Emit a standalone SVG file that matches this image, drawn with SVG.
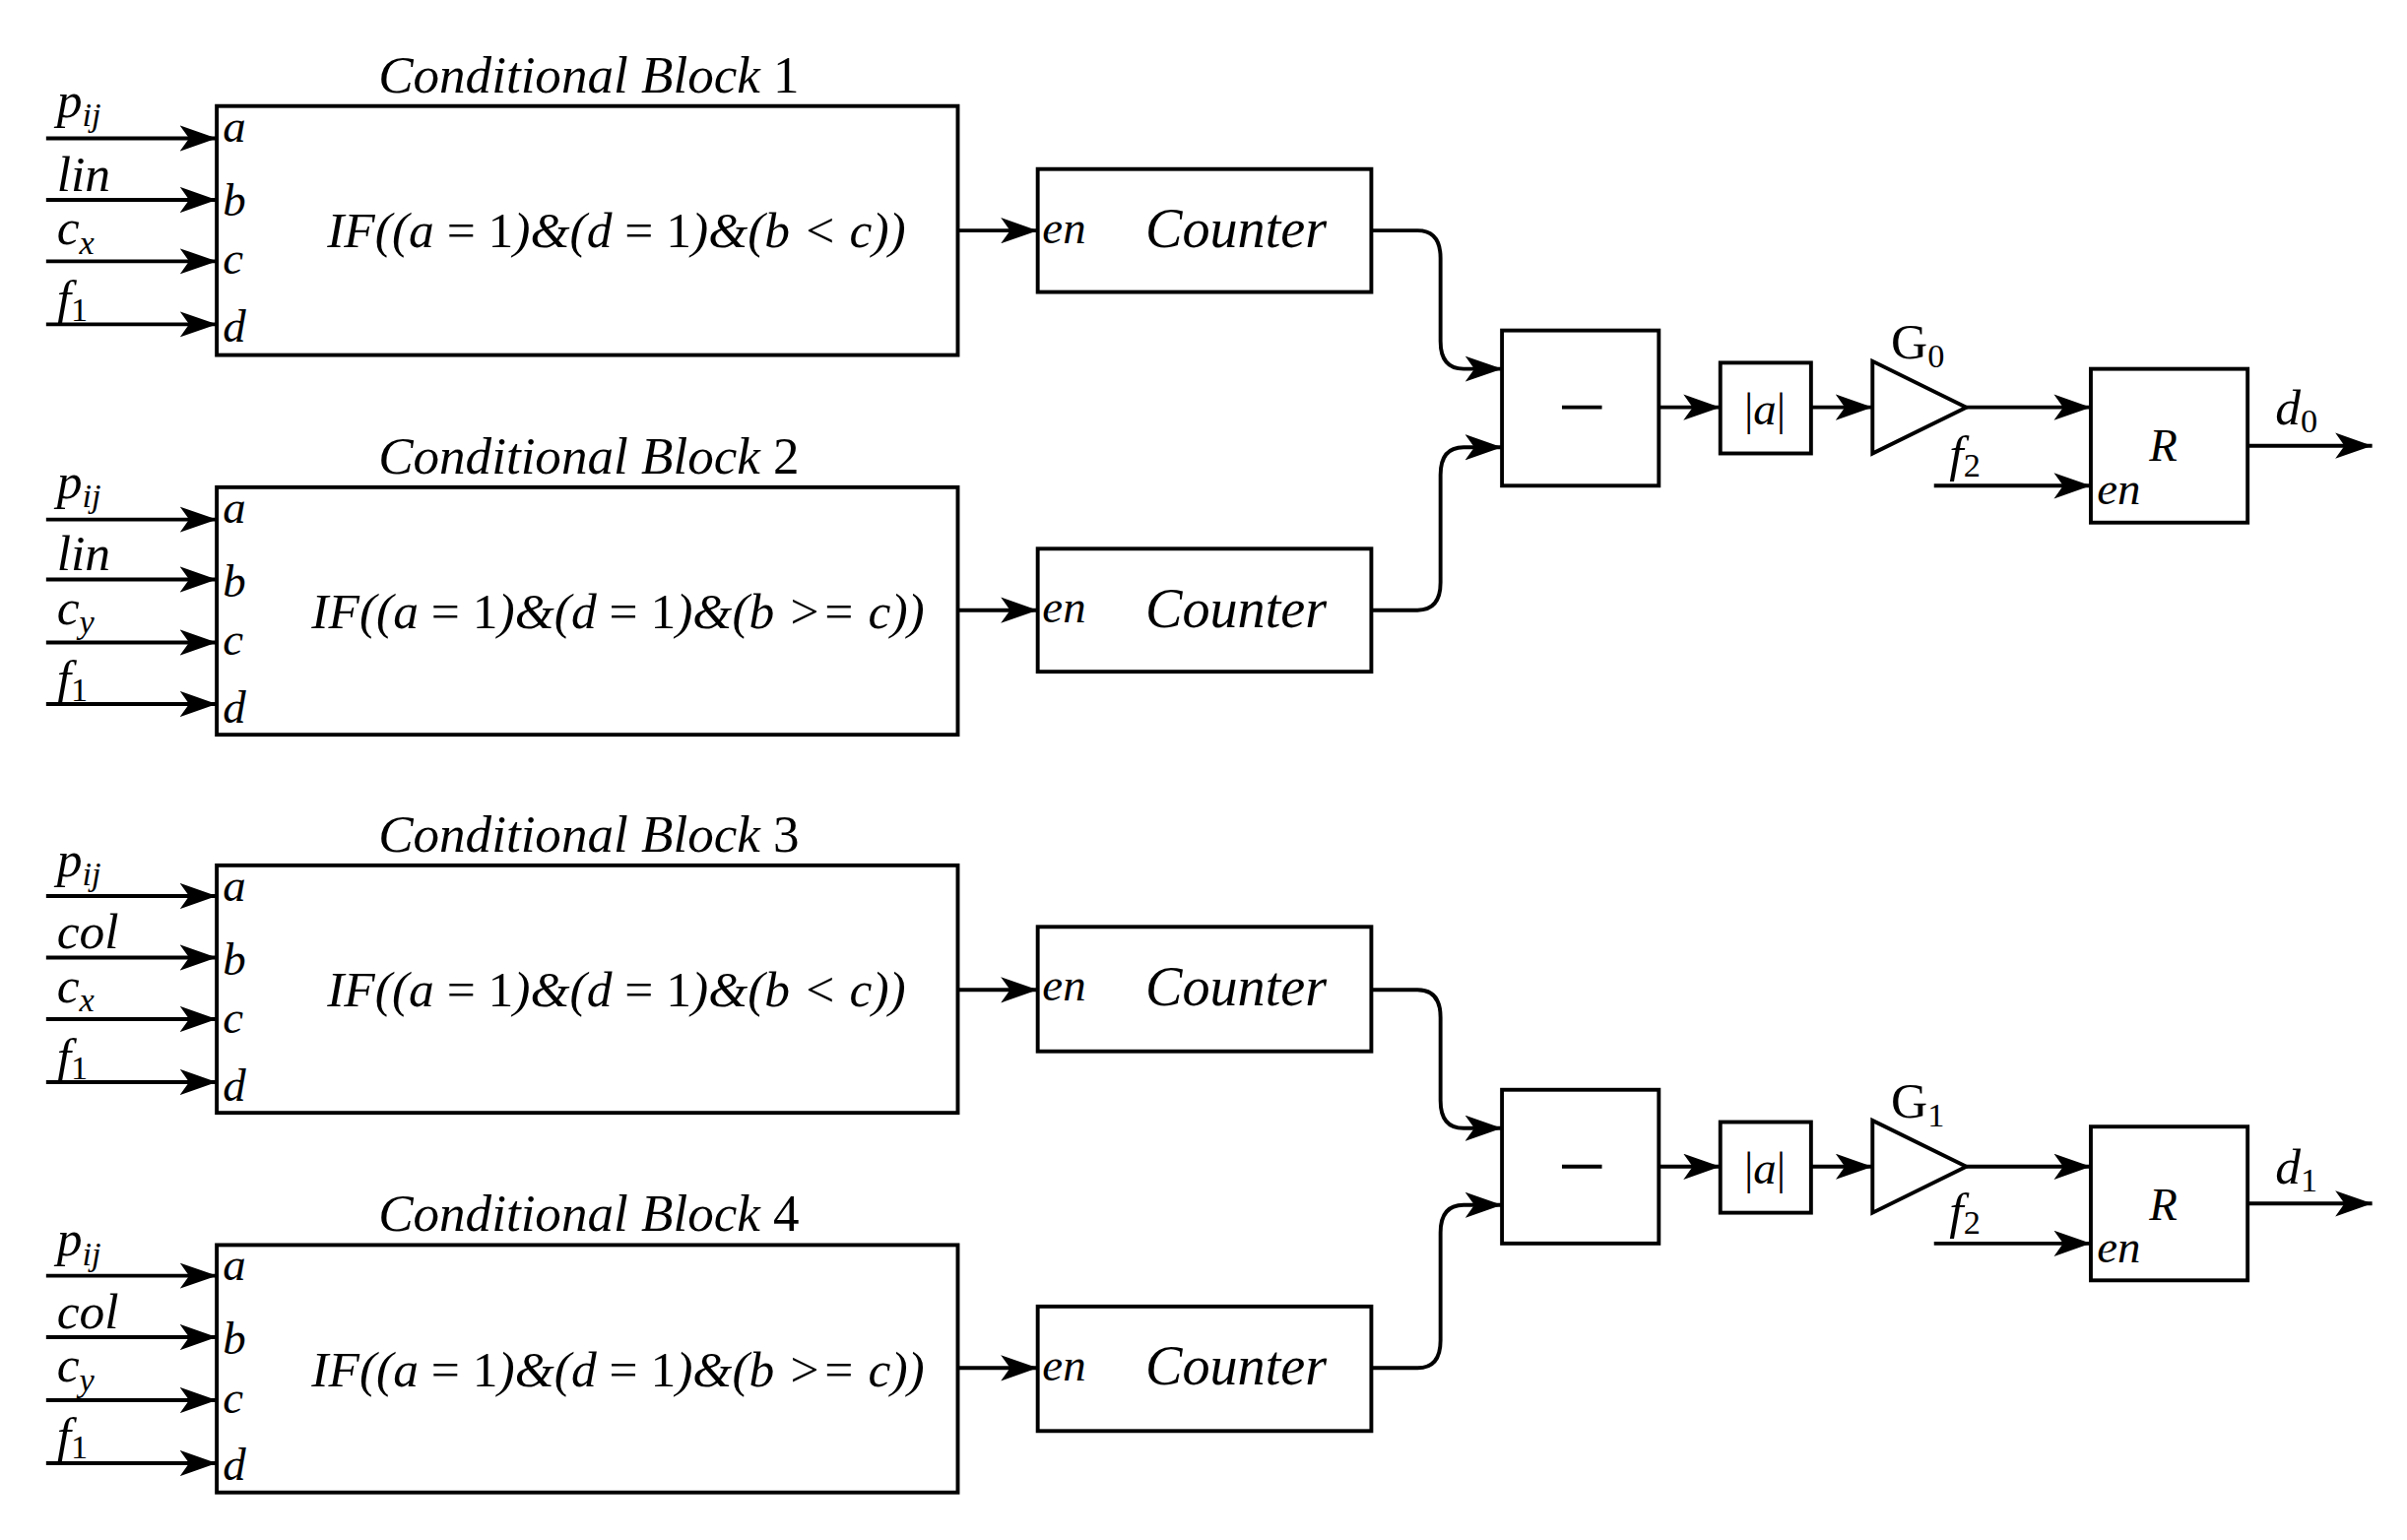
<svg xmlns="http://www.w3.org/2000/svg" width="2444" height="1564" viewBox="0 0 2444 1564">
<style>
.b{fill:none;stroke:#000;stroke-width:2.5}
.w{fill:#fff;stroke:#000;stroke-width:2.5}
.c{fill:none;stroke:#000;stroke-width:2.5;marker-end:url(#ah)}
text{font-family:"Liberation Serif","DejaVu Serif",serif;font-style:italic;fill:#000}
.t{font-size:34px}
.l{font-size:33px}
.p{font-size:30px}
.f{font-size:36px}
.g{font-size:33px}
.u{font-style:normal}
.s{font-size:22px}
</style>
<defs>
<marker id="ah" viewBox="0 0 20 14" refX="20" refY="7" markerWidth="24" markerHeight="17" markerUnits="userSpaceOnUse" orient="auto">
<path d="M0,0 L20,7 L0,14 L5,7 Z" fill="#000"/>
</marker>
</defs>
<rect width="2444" height="1564" fill="#fff"/>
<g transform="scale(1.561)">
<g id="block1">
<rect class="w" x="141" y="69" width="482" height="162"/>
<text class="t" x="383" y="60" text-anchor="middle">Conditional Block<tspan class="u"> 1</tspan></text>
<text class="g" x="401" y="161" text-anchor="middle">IF((a<tspan class="u"> = 1</tspan>)&amp;(d<tspan class="u"> = 1</tspan>)&amp;(b &lt; c))</text>
<text class="p" x="145" y="92">a</text><text class="p" x="145" y="140">b</text><text class="p" x="145" y="178">c</text><text class="p" x="145" y="222">d</text>
<text class="l" x="37" y="76">p<tspan class="s" dy="6">ij</tspan></text>
<text class="l" x="37" y="124">lin</text>
<text class="l" x="37" y="159">c<tspan class="s" dy="6">x</tspan></text>
<text class="l" x="37" y="205">f<tspan class="s u" dy="4">1</tspan></text>
</g>
<g id="block2">
<rect class="w" x="141" y="317" width="482" height="161"/>
<text class="t" x="383" y="308" text-anchor="middle">Conditional Block<tspan class="u"> 2</tspan></text>
<text class="g" x="402" y="409" text-anchor="middle">IF((a<tspan class="u"> = 1</tspan>)&amp;(d<tspan class="u"> = 1</tspan>)&amp;(b &gt;= c))</text>
<text class="p" x="145" y="340">a</text><text class="p" x="145" y="388">b</text><text class="p" x="145" y="426">c</text><text class="p" x="145" y="470">d</text>
<text class="l" x="37" y="324">p<tspan class="s" dy="6">ij</tspan></text>
<text class="l" x="37" y="371">lin</text>
<text class="l" x="37" y="406">c<tspan class="s" dy="6">y</tspan></text>
<text class="l" x="37" y="452">f<tspan class="s u" dy="4">1</tspan></text>
</g>
<g id="block3">
<rect class="w" x="141" y="563" width="482" height="161"/>
<text class="t" x="383" y="554" text-anchor="middle">Conditional Block<tspan class="u"> 3</tspan></text>
<text class="g" x="401" y="655" text-anchor="middle">IF((a<tspan class="u"> = 1</tspan>)&amp;(d<tspan class="u"> = 1</tspan>)&amp;(b &lt; c))</text>
<text class="p" x="145" y="586">a</text><text class="p" x="145" y="634">b</text><text class="p" x="145" y="672">c</text><text class="p" x="145" y="716">d</text>
<text class="l" x="37" y="570">p<tspan class="s" dy="6">ij</tspan></text>
<text class="l" x="37" y="617">col</text>
<text class="l" x="37" y="652">c<tspan class="s" dy="6">x</tspan></text>
<text class="l" x="37" y="698">f<tspan class="s u" dy="4">1</tspan></text>
</g>
<g id="block4">
<rect class="w" x="141" y="810" width="482" height="161"/>
<text class="t" x="383" y="801" text-anchor="middle">Conditional Block<tspan class="u"> 4</tspan></text>
<text class="g" x="402" y="902" text-anchor="middle">IF((a<tspan class="u"> = 1</tspan>)&amp;(d<tspan class="u"> = 1</tspan>)&amp;(b &gt;= c))</text>
<text class="p" x="145" y="833">a</text><text class="p" x="145" y="881">b</text><text class="p" x="145" y="919">c</text><text class="p" x="145" y="963">d</text>
<text class="l" x="37" y="817">p<tspan class="s" dy="6">ij</tspan></text>
<text class="l" x="37" y="864">col</text>
<text class="l" x="37" y="899">c<tspan class="s" dy="6">y</tspan></text>
<text class="l" x="37" y="945">f<tspan class="s u" dy="4">1</tspan></text>
</g>
<g id="counter1"><rect class="w" x="675" y="110" width="217" height="80"/><text class="p" x="678" y="158">en</text><text class="f" x="745" y="161">Counter</text></g>
<g id="counter2"><rect class="w" x="675" y="357" width="217" height="80"/><text class="p" x="678" y="405">en</text><text class="f" x="745" y="408">Counter</text></g>
<g id="counter3"><rect class="w" x="675" y="603" width="217" height="81"/><text class="p" x="678" y="651">en</text><text class="f" x="745" y="654">Counter</text></g>
<g id="counter4"><rect class="w" x="675" y="850" width="217" height="81"/><text class="p" x="678" y="898">en</text><text class="f" x="745" y="901">Counter</text></g>
<g id="sub0"><rect class="w" x="977" y="215" width="102" height="101"/><line class="b" x1="1016" y1="265" x2="1042" y2="265" stroke-width="3.5"/></g>
<g id="sub1"><rect class="w" x="977" y="709" width="102" height="100"/><line class="b" x1="1016" y1="759" x2="1042" y2="759" stroke-width="3.5"/></g>
<g id="abs0"><rect class="w" x="1119" y="236" width="59" height="59"/><text class="p" x="1148" y="276" text-anchor="middle"><tspan class="u">|</tspan>a<tspan class="u">|</tspan></text></g>
<g id="abs1"><rect class="w" x="1119" y="730" width="59" height="59"/><text class="p" x="1148" y="770" text-anchor="middle"><tspan class="u">|</tspan>a<tspan class="u">|</tspan></text></g>
<g id="gain0"><polygon class="w" points="1218,235 1218,295 1279,265"/><text class="l u" x="1230" y="233">G<tspan class="s" dy="6">0</tspan></text></g>
<g id="gain1"><polygon class="w" points="1218,729 1218,789 1279,759"/><text class="l u" x="1230" y="727">G<tspan class="s" dy="6">1</tspan></text></g>
<g id="reg0"><rect class="w" x="1360" y="240" width="102" height="100"/><text class="p" x="1364" y="328">en</text><text class="p" x="1398" y="300">R</text></g>
<g id="reg1"><rect class="w" x="1360" y="733" width="102" height="100"/><text class="p" x="1364" y="821">en</text><text class="p" x="1398" y="794">R</text></g>
<text class="l" x="1268" y="306">f<tspan class="s u" dy="4">2</tspan></text>
<text class="l" x="1268" y="799">f<tspan class="s u" dy="4">2</tspan></text>
<text class="l" x="1480" y="276">d<tspan class="s u" dy="5">0</tspan></text>
<text class="l" x="1480" y="770">d<tspan class="s u" dy="5">1</tspan></text>
<g id="connectors">
<line class="c" x1="30" y1="90" x2="141" y2="90"/><line class="c" x1="30" y1="130" x2="141" y2="130"/><line class="c" x1="30" y1="170" x2="141" y2="170"/><line class="c" x1="30" y1="211" x2="141" y2="211"/>
<line class="c" x1="30" y1="338" x2="141" y2="338"/><line class="c" x1="30" y1="377" x2="141" y2="377"/><line class="c" x1="30" y1="418" x2="141" y2="418"/><line class="c" x1="30" y1="458" x2="141" y2="458"/>
<line class="c" x1="30" y1="583" x2="141" y2="583"/><line class="c" x1="30" y1="623" x2="141" y2="623"/><line class="c" x1="30" y1="663" x2="141" y2="663"/><line class="c" x1="30" y1="704" x2="141" y2="704"/>
<line class="c" x1="30" y1="830" x2="141" y2="830"/><line class="c" x1="30" y1="870" x2="141" y2="870"/><line class="c" x1="30" y1="911" x2="141" y2="911"/><line class="c" x1="30" y1="952" x2="141" y2="952"/>
<line class="c" x1="623" y1="150" x2="675" y2="150"/><line class="c" x1="623" y1="397" x2="675" y2="397"/><line class="c" x1="623" y1="644" x2="675" y2="644"/><line class="c" x1="623" y1="890" x2="675" y2="890"/>
<path class="c" d="M892,150H922Q937,150 937,168V222Q937,240 952,240H977"/>
<path class="c" d="M892,397H922Q937,397 937,379V309Q937,291 952,291H977"/>
<path class="c" d="M892,644H922Q937,644 937,662V716Q937,734 952,734H977"/>
<path class="c" d="M892,890H922Q937,890 937,872V802Q937,784 952,784H977"/>
<line class="c" x1="1079" y1="265" x2="1119" y2="265"/><line class="c" x1="1178" y1="265" x2="1218" y2="265"/><line class="c" x1="1279" y1="265" x2="1360" y2="265"/><line class="c" x1="1258" y1="316" x2="1360" y2="316"/><line class="c" x1="1462" y1="290" x2="1543" y2="290"/>
<line class="c" x1="1079" y1="759" x2="1119" y2="759"/><line class="c" x1="1178" y1="759" x2="1218" y2="759"/><line class="c" x1="1279" y1="759" x2="1360" y2="759"/><line class="c" x1="1258" y1="809" x2="1360" y2="809"/><line class="c" x1="1462" y1="783" x2="1543" y2="783"/>
</g>
</g>
</svg>
